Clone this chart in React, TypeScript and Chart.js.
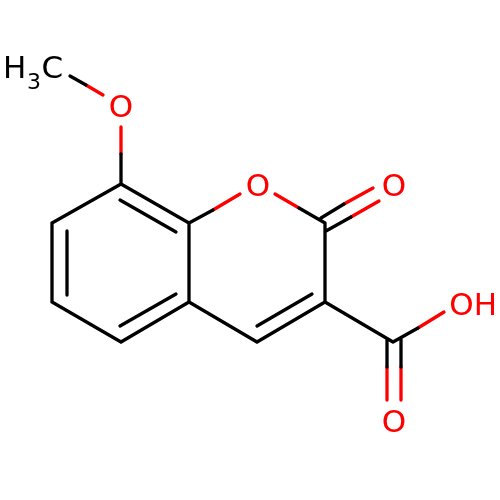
import { Chart, registerables } from "chart.js";
import { useEffect, useRef } from "react";

Chart.register(...registerables);

// bond paths, each one [x, y] pairs on a 0-500 axis
const blackBonds: number[][][] = [
  [[121, 184], [189, 223], [189, 302], [121, 342], [52, 302], [52, 223], [121, 184]],
  [[120, 200], [176, 232]],
  [[67, 231], [67, 295]],
  [[120, 326], [176, 294]],
  [[189, 302], [257, 342], [325, 302], [325, 223]],
  [[257, 326], [312, 294]],
  [[325, 302], [393, 342]],
  [[70, 76], [86, 85]],
  [[121, 154], [121, 184]],
  [[189, 223], [213, 210]],
  [[299, 208], [325, 223]],
  [[321, 218], [344, 204]],
  [[326, 231], [351, 217]],
  [[393, 342], [418, 328]],
  [[387, 339], [387, 367]],
  [[401, 339], [401, 367]],
];

const redBonds: number[][][] = [
  [[86, 85], [103, 95]],
  [[121, 127], [121, 154]],
  [[213, 210], [240, 194]],
  [[275, 194], [299, 208]],
  [[344, 204], [373, 188]],
  [[351, 217], [379, 201]],
  [[418, 328], [444, 312]],
  [[387, 367], [387, 400]],
  [[401, 367], [401, 400]],
];

const atomText = ["H", "3", "C", "O", "O", "O", "OH", "O"];
const atomX = [3, 27, 41.5, 108.8, 245.8, 381.8, 449.3, 381.8];
const atomY = [78, 89, 78, 117, 196, 196, 315, 432];
const atomSize = [31, 22, 31, 31, 31, 31, 31, 31];
const atomColor = ["#000000", "#000000", "#000000", "#FF0000", "#FF0000", "#FF0000", "#FF0000", "#FF0000"];

function toPoints(paths: number[][][]) {
  const out: Array<{ x: number; y: number }> = [];
  for (const p of paths) {
    for (const [x, y] of p) out.push({ x, y });
    out.push({ x: NaN, y: NaN });
  }
  return out;
}

const atomLabels = {
  id: "atomLabels",
  afterDatasetsDraw(chart: Chart) {
    const { ctx, scales } = chart;
    ctx.save();
    ctx.textAlign = "left";
    ctx.textBaseline = "alphabetic";
    atomText.forEach((t, i) => {
      ctx.font = `${atomSize[i]}px "DejaVu Sans"`;
      ctx.fillStyle = atomColor[i];
      ctx.fillText(t, scales.x.getPixelForValue(atomX[i]), scales.y.getPixelForValue(atomY[i]));
    });
    ctx.restore();
  },
};

export default function App() {
  const ref = useRef<HTMLCanvasElement>(null);

  useEffect(() => {
    if (!ref.current) return;
    const line = {
      showLine: true,
      pointRadius: 0,
      borderWidth: 3.3,
      borderCapStyle: "round" as const,
      borderJoinStyle: "miter" as const,
      spanGaps: false,
    };
    const chart = new Chart(ref.current, {
      type: "scatter",
      data: {
        datasets: [
          { ...line, data: toPoints(blackBonds), borderColor: "#000000" },
          { ...line, data: toPoints(redBonds), borderColor: "#FF0000" },
        ],
      },
      options: {
        responsive: false,
        animation: false,
        layout: { padding: 0 },
        plugins: { legend: { display: false }, tooltip: { enabled: false } },
        scales: {
          x: { type: "linear", min: 0, max: 500, display: false },
          y: { type: "linear", min: 0, max: 500, reverse: true, display: false },
        },
      },
      plugins: [atomLabels],
    });
    return () => chart.destroy();
  }, []);

  return (
    <div style={{ position: "fixed", left: 0, top: 0, width: 500, height: 500, background: "#fff" }}>
      <canvas ref={ref} width={500} height={500} />
    </div>
  );
}
